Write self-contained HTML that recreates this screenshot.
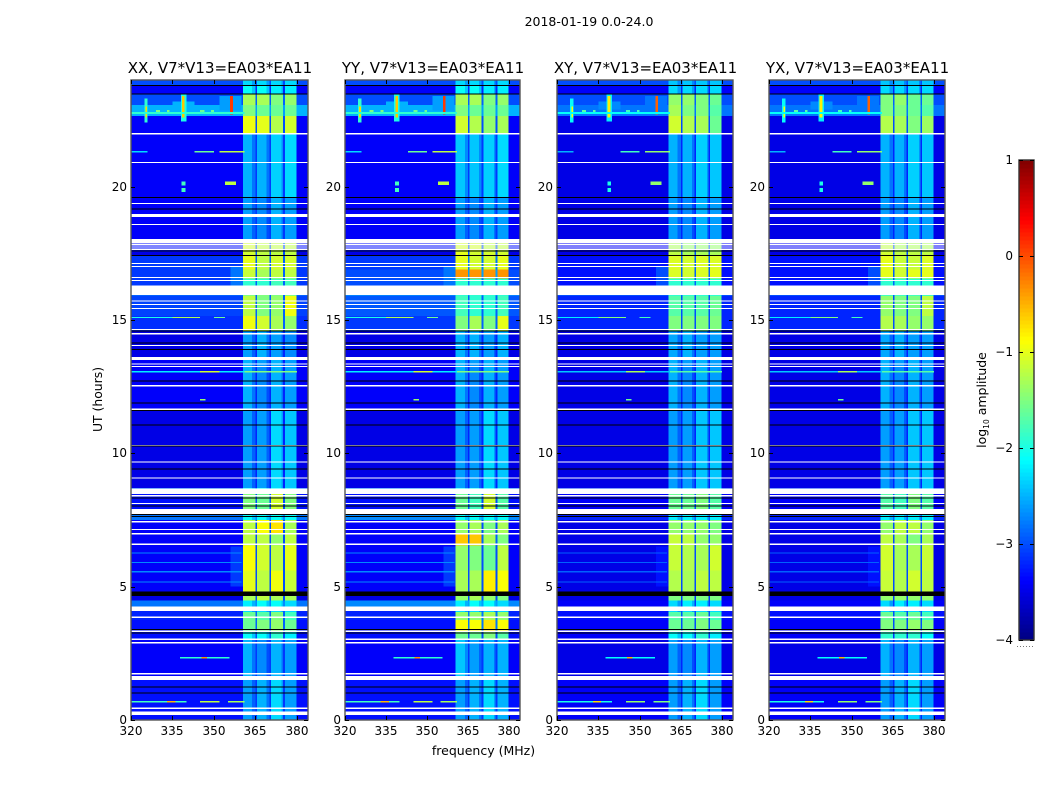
<!DOCTYPE html>
<html lang="en">
<head>
<meta charset="utf-8">
<title>2018-01-19 0.0-24.0</title>
<style>
html,body{margin:0;padding:0;background:#fff;width:1050px;height:800px;overflow:hidden}
svg{display:block}
text{font-family:"DejaVu Sans","Liberation Sans",sans-serif;fill:#000}
</style>
</head>
<body>
<svg id="figure" width="1050" height="800" viewBox="0 0 1050 800" xmlns="http://www.w3.org/2000/svg">
  <text x="589" y="26" font-size="12.5" text-anchor="middle">2018-01-19 0.0-24.0</text>
  <text x="483.5" y="755" font-size="12.5" text-anchor="middle">frequency (MHz)</text>
  <text transform="translate(102,399.5) rotate(-90)" font-size="12.4" text-anchor="middle">UT (hours)</text>
  <text transform="translate(986,400) rotate(-90)" font-size="12.5" text-anchor="middle">log<tspan font-size="7.5" dy="3">10</tspan><tspan dy="-3"> amplitude</tspan></text>
  <g id="panels"></g>
  <g id="colorbar"></g>
  <line x1="1017" y1="646.5" x2="1035" y2="646.5" stroke="#777" stroke-width="1" stroke-dasharray="1 2"></line>
</svg>
<script>
// Panel titles
const panelTitles = ["XX, V7*V13=EA03*EA11", "YY, V7*V13=EA03*EA11", "XY, V7*V13=EA03*EA11", "YX, V7*V13=EA03*EA11"];
const xTicks = [320, 335, 350, 365, 380];
const yTicks = [0, 5, 10, 15, 20];
const colorTicks = [1, 0, -1, -2, -3, -4];

// Frequency columns (MHz)
const freqEdges = [320, 360.5, 363.8, 365, 365.6, 369, 370, 370.6, 374.5, 375, 375.7, 379.8, 384];
// Which value of a row each frequency column reads: 0 off, 1 A, 2 B, 3 C, 4 D, 5 gap
const freqColumnKind = [0, 1, 1, 5, 2, 2, 5, 3, 3, 5, 4, 0];
// Band-edge columns fall away from the core when a row is at low amplitude
const freqColumnIsEdge = [0, 0, 1, 0, 0, 1, 0, 0, 1, 0, 0, 0];
const lowRowThreshold = -1.9;
const lowRowEdgeDrop = 0.4;
const lowRowCoreDrop = 0.1;

// UT row edges (hours)
const utEdges = [0,1.5,3.0,3.3,3.75,4.05,4.25,4.48,4.65,5.6,6.55,7.0,7.5,7.75,8.5,8.7,11.6,13.3,13.6,14.6,15.15,15.9,16.3,16.55,16.9,17.4,17.55,18.0,19.6,22.0,22.65,23.06,23.45,23.77,24];

// log10 amplitude per row: [off, A, B, C, D, gap]
const ampXX = [
[-3.3,-2.5,-2.4,-2.2,-2.5,-3.1],[-3.4,-2.4,-2.6,-2.4,-2.5,-3.1],[-3.3,-2.0,-2.0,-1.9,-2.1,-3.0],[-3.3,-1.6,-1.5,-1.4,-1.6,-2.9],
[-3.2,-1.6,-1.7,-1.5,-1.8,-2.9],[-3.2,-2.2,-2.2,-2.2,-2.2,-2.9],[-2.8,-2.1,-2.0,-2.0,-2.2,-2.7],[-3.5,-1.3,-1.2,-1.3,-1.3,-3.0],
[-3.4,-1.0,-1.2,-0.95,-1.15,-3.0],[-3.4,-0.9,-1.1,-1.2,-1.0,-3.0],[-3.4,-1.2,-1.2,-1.4,-1.2,-3.0],[-3.4,-1.2,-0.9,-0.75,-1.3,-3.0],
[-2.8,-2.0,-2.0,-2.0,-2.0,-2.7],[-3.3,-1.5,-1.6,-1.1,-1.5,-3.0],[-2.9,-2.0,-2.0,-2.0,-2.0,-2.8],[-3.5,-2.5,-2.5,-2.2,-2.3,-3.2],
[-3.4,-2.4,-2.6,-2.4,-2.5,-3.2],[-3.4,-2.4,-2.5,-2.4,-2.5,-3.2],[-3.5,-2.5,-2.4,-2.5,-2.6,-3.2],[-3.15,-0.95,-1.1,-1.3,-1.4,-2.9],
[-3.05,-1.2,-1.5,-1.4,-0.95,-2.9],[-2.9,-1.5,-1.5,-1.5,-1.5,-2.9],[-3.1,-1.9,-1.9,-1.8,-1.8,-2.9],[-3.1,-1.15,-1.3,-1.2,-1.2,-2.9],
[-3.1,-1.0,-1.2,-1.1,-1.1,-2.9],[-3.5,-1.1,-1.2,-1.2,-1.2,-3.0],[-3.3,-1.1,-1.2,-1.2,-1.2,-3.0],[-3.4,-2.5,-2.6,-2.4,-2.5,-3.1],
[-3.4,-2.4,-2.4,-2.25,-2.2,-3.1],[-3.4,-0.95,-1.0,-1.25,-1.1,-3.0],[-2.5,-1.5,-1.6,-1.6,-1.6,-2.6],[-3.0,-1.3,-1.3,-1.5,-1.4,-2.9],[-3.4,-2.0,-2.0,-2.1,-2.1,-3.2],[-3.0,-2.2,-2.2,-2.2,-2.2,-3.0]];
const ampYY = [
[-3.3,-2.5,-2.4,-2.2,-2.4,-3.1],[-3.4,-2.3,-2.5,-2.4,-2.4,-3.1],[-3.3,-1.6,-1.6,-1.5,-1.7,-3.0],[-3.3,-0.9,-0.9,-0.75,-0.9,-2.8],
[-3.2,-1.4,-1.4,-1.3,-1.4,-2.8],[-3.2,-2.2,-2.2,-2.2,-2.2,-2.9],[-2.7,-2.1,-2.0,-2.0,-2.2,-2.6],[-3.5,-1.4,-1.3,-1.4,-1.5,-3.0],
[-3.4,-1.3,-1.3,-0.8,-0.9,-3.0],[-3.4,-1.4,-1.5,-1.6,-1.2,-3.0],[-3.4,-0.6,-0.6,-1.3,-1.5,-2.9],[-3.4,-1.4,-1.3,-1.5,-1.3,-3.0],
[-2.7,-2.0,-2.0,-2.0,-2.0,-2.6],[-3.3,-1.6,-1.8,-1.1,-1.7,-3.0],[-2.8,-2.0,-2.0,-2.0,-2.0,-2.7],[-3.5,-2.5,-2.5,-2.2,-2.3,-3.2],
[-3.4,-2.4,-2.6,-2.4,-2.5,-3.2],[-3.4,-2.4,-2.5,-2.4,-2.5,-3.2],[-3.5,-2.4,-2.4,-2.5,-2.4,-3.2],[-3.1,-1.5,-1.3,-1.5,-1.0,-2.9],
[-2.95,-1.8,-1.9,-1.9,-1.8,-2.9],[-2.75,-1.9,-1.9,-1.9,-1.9,-2.7],[-3.0,-1.9,-1.9,-1.9,-1.9,-2.8],[-3.0,-0.35,-0.35,-0.35,-0.35,-2.6],
[-3.1,-1.0,-1.1,-1.1,-1.0,-2.8],[-3.5,-1.0,-1.1,-1.1,-1.1,-3.0],[-3.3,-1.1,-1.1,-1.2,-1.2,-3.0],[-3.4,-2.5,-2.6,-2.4,-2.5,-3.1],
[-3.4,-2.3,-2.3,-2.25,-2.2,-3.1],[-3.4,-1.1,-1.25,-1.4,-1.3,-3.0],[-2.5,-1.5,-1.6,-1.6,-1.6,-2.6],[-3.0,-1.3,-1.3,-1.5,-1.4,-2.9],[-3.4,-2.0,-2.0,-2.1,-2.1,-3.2],[-3.0,-2.2,-2.2,-2.2,-2.2,-3.0]];
const ampXY = [
[-3.4,-2.5,-2.4,-2.2,-2.5,-3.2],[-3.5,-2.5,-2.6,-2.4,-2.5,-3.2],[-3.4,-2.0,-2.0,-1.9,-2.1,-3.1],[-3.4,-1.6,-1.6,-1.5,-1.6,-3.0],
[-3.3,-1.7,-1.7,-1.6,-1.8,-3.0],[-3.3,-2.2,-2.2,-2.2,-2.2,-3.0],[-3.4,-2.2,-2.1,-2.1,-2.2,-3.1],[-3.5,-1.5,-1.5,-1.5,-1.5,-3.1],
[-3.5,-1.25,-1.3,-1.2,-1.2,-3.0],[-3.5,-1.15,-1.25,-1.3,-1.1,-3.0],[-3.5,-1.15,-1.2,-1.4,-1.4,-3.0],[-3.5,-1.4,-1.4,-1.4,-1.5,-3.0],
[-3.2,-2.1,-2.1,-2.1,-2.1,-2.9],[-3.4,-1.6,-1.6,-1.5,-1.7,-3.0],[-3.1,-2.1,-2.1,-2.1,-2.1,-2.9],[-3.5,-2.5,-2.5,-2.3,-2.3,-3.2],
[-3.5,-2.4,-2.6,-2.4,-2.5,-3.2],[-3.5,-2.4,-2.5,-2.4,-2.5,-3.2],[-3.5,-2.45,-2.4,-2.5,-2.5,-3.2],[-3.2,-1.5,-1.5,-1.5,-1.5,-3.0],
[-3.2,-1.7,-1.7,-1.7,-1.6,-3.0],[-3.0,-1.9,-1.9,-1.9,-1.9,-2.9],[-3.3,-1.9,-1.9,-1.9,-1.9,-2.9],[-3.3,-1.05,-1.1,-1.05,-1.0,-2.9],
[-3.3,-1.05,-1.1,-1.05,-1.05,-2.9],[-3.5,-1.2,-1.3,-1.3,-1.3,-3.0],[-3.4,-1.3,-1.4,-1.4,-1.4,-3.0],[-3.5,-2.5,-2.6,-2.4,-2.5,-3.2],
[-3.5,-2.4,-2.4,-2.25,-2.3,-3.2],[-3.5,-1.1,-1.25,-1.3,-1.6,-3.0],[-2.8,-1.3,-1.5,-1.5,-1.7,-2.8],[-3.0,-1.4,-1.4,-1.5,-1.6,-2.9],[-3.4,-2.2,-2.2,-2.2,-2.2,-3.2],[-3.0,-2.3,-2.3,-2.3,-2.3,-3.0]];
const ampYX = [
[-3.4,-2.5,-2.4,-2.2,-2.5,-3.2],[-3.5,-2.4,-2.6,-2.4,-2.5,-3.2],[-3.4,-1.9,-1.9,-1.9,-2.0,-3.1],[-3.4,-1.5,-1.5,-1.4,-1.5,-3.0],
[-3.3,-1.6,-1.7,-1.6,-1.8,-3.0],[-3.3,-2.2,-2.2,-2.2,-2.2,-3.0],[-3.4,-2.2,-2.1,-2.1,-2.2,-3.1],[-3.5,-1.4,-1.4,-1.4,-1.4,-3.1],
[-3.5,-1.15,-1.25,-1.1,-1.2,-3.0],[-3.5,-1.1,-1.3,-1.3,-1.15,-3.0],[-3.5,-1.2,-1.3,-1.5,-1.3,-3.0],[-3.5,-1.4,-1.2,-1.2,-1.4,-3.0],
[-3.2,-2.1,-2.1,-2.1,-2.1,-2.9],[-3.4,-1.7,-1.8,-1.5,-1.7,-3.0],[-3.1,-2.1,-2.1,-2.1,-2.1,-2.9],[-3.5,-2.5,-2.5,-2.3,-2.3,-3.2],
[-3.5,-2.4,-2.6,-2.4,-2.5,-3.2],[-3.5,-2.4,-2.5,-2.4,-2.5,-3.2],[-3.5,-2.45,-2.4,-2.5,-2.5,-3.2],[-3.2,-1.25,-1.3,-1.4,-1.4,-3.0],
[-3.2,-1.4,-1.5,-1.5,-1.2,-3.0],[-3.0,-1.8,-1.8,-1.8,-1.8,-2.9],[-3.3,-1.9,-1.9,-1.9,-1.9,-2.9],[-3.3,-1.0,-1.1,-1.0,-1.0,-2.9],
[-3.3,-1.0,-1.15,-1.15,-1.05,-2.9],[-3.5,-1.1,-1.2,-1.2,-1.2,-3.0],[-3.4,-1.2,-1.3,-1.3,-1.3,-3.0],[-3.5,-2.5,-2.6,-2.4,-2.5,-3.2],
[-3.5,-2.4,-2.4,-2.25,-2.3,-3.2],[-3.5,-1.25,-1.3,-1.5,-1.35,-3.0],[-2.8,-1.5,-1.5,-1.6,-1.7,-2.8],[-3.0,-1.5,-1.4,-1.6,-1.6,-2.9],[-3.4,-2.2,-2.2,-2.2,-2.2,-3.2],[-3.0,-2.3,-2.3,-2.3,-2.3,-3.0]];
const panelAmps = [ampXX, ampYY, ampXY, ampYX];

// Narrow-band interference features: [freqLo, freqHi, utLo, utHi, log10 amplitude]
const rfiEvents = [
[352,360,22.85,23.4,-2.6],[335,343,22.9,23.2,-2.5],[324.8,326,22.4,23.3,-1.9],[325.2,325.8,22.6,23.0,-0.7],[338,340,22.45,23.5,-2.0],[338.4,339.4,22.6,23.4,-0.6],[355.8,356.8,22.7,23.4,0.1],
[320,361,22.72,22.8,-1.9],[329,330.5,22.8,22.88,-1.5],[333,334,22.8,22.88,-1.5],[345,346.5,22.8,22.88,-1.6],[349,350,22.8,22.88,-1.6],
[320,326,21.28,21.33,-2.3],[343,350,21.28,21.33,-1.6],[352,361,21.28,21.33,-1.2],
[338.3,339.7,20.05,20.2,-1.8],[338.3,339.7,19.8,19.95,-1.8],[354,358,20.07,20.2,-1.2],
[320,345,15.07,15.12,-2.0],[335,345,15.07,15.12,-1.3],[350,354,15.07,15.12,-1.6],
[320,361,13.03,13.08,-2.2],[345,352,13.03,13.08,-1.1],[361,380,13.03,13.08,-1.5],
[345,347,11.98,12.04,-1.4],
[356,360.5,16.3,17.0,-2.8],[356,360.5,5.0,6.5,-3.1],
[320,360,6.25,6.29,-2.7],[320,360,5.88,5.92,-2.7],[320,360,5.54,5.58,-2.7],[320,360,5.16,5.2,-2.7],
[337.7,355.7,2.3,2.36,-1.9],[345.5,347.5,2.3,2.36,-0.3],
[320,340,0.65,0.71,-1.8],[333,336,0.65,0.71,-0.5],[345,352,0.65,0.71,-1.2],[355,361,0.65,0.71,-1.3]];
const rfiPanelOffset = [0, 0, -0.2, -0.2];

// Flagged (blank) time ranges in hours
const flaggedRanges = [
[0.19,0.31],[0.42,0.46],[1.5,1.65],[1.71,1.76],[2.87,2.92],[3.0,3.06],[3.3,3.36],[3.83,3.88],[4.09,4.25],[6.56,6.62],[6.96,7.01],[7.13,7.17],[7.41,7.46],[7.72,7.91],[8.10,8.14],[8.38,8.43],[8.47,8.69],[9.06,9.1],[9.66,9.7],[10.28,10.31],[11.62,11.68],[12.51,12.56],[13.24,13.27],[13.33,13.37],[13.5,13.62],[14.02,14.06],[14.45,14.51],[14.62,14.66],[15.41,15.45],[15.56,15.6],[15.7,15.73],[15.94,16.29],[16.46,16.5],[16.57,16.61],[16.98,17.02],[17.1,17.13],[17.62,17.68],[17.72,17.76],[17.8,17.85],[17.86,18.03],[18.56,18.6],[18.86,18.97],[19.35,19.38],[20.89,20.93],[21.95,22.01]];
// Zero-amplitude (black) time ranges in hours
const zeroRanges = [
[1.0,1.035],[1.23,1.265],[3.25,3.285],[3.37,3.405],[4.65,4.81],[7.62,7.655],[7.69,7.725],[8.0,8.035],[8.31,8.345],[9.4,9.435],[10.25,10.285],[11.05,11.085],[11.58,11.62],[11.87,11.905],[12.7,12.735],[13.87,13.905],[14.12,14.155],[14.58,14.615],[17.4,17.44],[17.56,17.6],[19.15,19.185],[19.58,19.615],[23.46,23.495],[23.77,23.805]];

const NS = "http://www.w3.org/2000/svg";
const panelBoxes = [{x:131,w:177},{x:345,w:175},{x:557,w:176},{x:769,w:176}];
const plotTop = 80, plotBottom = 720;
const freqMin = 320, freqMax = 384, utMin = 0, utMax = 24;
const vMin = -4, vMax = 1;

function yScale(ut){ return plotBottom - (ut - utMin) / (utMax - utMin) * (plotBottom - plotTop); }
function xScale(box, f){ return box.x + (f - freqMin) / (freqMax - freqMin) * box.w; }
function jet(v){
  const t = Math.min(1, Math.max(0, (v - vMin) / (vMax - vMin)));
  const ch = c => Math.round(255 * Math.min(1, Math.max(0, 1.5 - Math.abs(4 * t - c))));
  return "rgb(" + ch(3) + "," + ch(2) + "," + ch(1) + ")";
}
function makeRect(parent, x, y, w, h, fill){
  const r = document.createElementNS(NS, "rect");
  r.setAttribute("x", x.toFixed(2));
  r.setAttribute("y", y.toFixed(2));
  r.setAttribute("width", w.toFixed(2));
  r.setAttribute("height", h.toFixed(2));
  r.setAttribute("fill", fill);
  r.setAttribute("shape-rendering", "crispEdges");
  parent.appendChild(r);
  return r;
}
function makeLine(parent, x1, y1, x2, y2){
  const l = document.createElementNS(NS, "line");
  l.setAttribute("x1", x1); l.setAttribute("y1", y1);
  l.setAttribute("x2", x2); l.setAttribute("y2", y2);
  l.setAttribute("stroke", "#000");
  l.setAttribute("stroke-width", "1");
  l.setAttribute("shape-rendering", "crispEdges");
  parent.appendChild(l);
  return l;
}
function makeText(parent, x, y, str, size, anchor){
  const t = document.createElementNS(NS, "text");
  t.setAttribute("x", x); t.setAttribute("y", y);
  t.setAttribute("font-size", size);
  t.setAttribute("text-anchor", anchor);
  t.textContent = str;
  parent.appendChild(t);
  return t;
}

const panelsRoot = document.getElementById("panels");
panelBoxes.forEach(function(box, p){
  const g = document.createElementNS(NS, "g");
  
  
  panelsRoot.appendChild(g);

  const rows = panelAmps[p];
  rows.forEach(function(row, r){
    const yTop = yScale(utEdges[r + 1]), yBot = yScale(utEdges[r]);
    freqColumnKind.forEach(function(kind, c){
      const x0 = xScale(box, freqEdges[c]), x1 = xScale(box, freqEdges[c + 1]);
      let value = row[kind];
      if (kind >= 1 && kind <= 4 && value < lowRowThreshold) {
        value -= freqColumnIsEdge[c] ? lowRowEdgeDrop : lowRowCoreDrop;
      }
      const cell = makeRect(g, x0, yTop, x1 - x0, yBot - yTop, jet(value));
      
      
    });
  });

  rfiEvents.forEach(function(ev){
    const x0 = xScale(box, ev[0]), x1 = xScale(box, ev[1]);
    const y0 = yScale(ev[3]), y1 = yScale(ev[2]);
    const mark = makeRect(g, x0, y0, x1 - x0, Math.max(1, y1 - y0), jet(ev[4] + rfiPanelOffset[p]));
    
    
  });

  flaggedRanges.forEach(function(rg){
    const y0 = yScale(rg[1]), y1 = yScale(rg[0]);
    const band = makeRect(g, box.x, y0, box.w, Math.max(1, y1 - y0), "#fff");
    
    
  });
  zeroRanges.forEach(function(rg){
    const y0 = yScale(rg[1]), y1 = yScale(rg[0]);
    const band = makeRect(g, box.x, y0, box.w, Math.max(1, y1 - y0), "#000");
    
    
  });

  // Frame
  const frame = document.createElementNS(NS, "rect");
  frame.setAttribute("x", box.x);
  frame.setAttribute("y", plotTop);
  frame.setAttribute("width", box.w);
  frame.setAttribute("height", plotBottom - plotTop);
  frame.setAttribute("fill", "none");
  frame.setAttribute("stroke", "#555");
  frame.setAttribute("stroke-width", "1.4");
  
  
  g.appendChild(frame);

  // Ticks and labels
  xTicks.forEach(function(f){
    const x = Math.round(xScale(box, f));
    const t1 = makeLine(g, x + 0.5, plotBottom, x + 0.5, plotBottom - 4);
    
    
    const t2 = makeLine(g, x + 0.5, plotTop, x + 0.5, plotTop + 4);
    
    
    const lab = makeText(g, x, 735, String(f), 12, "middle");
    
    
  });
  yTicks.forEach(function(u){
    const y = Math.round(yScale(u));
    const t1 = makeLine(g, box.x, y + 0.5, box.x + 4, y + 0.5);
    
    
    const t2 = makeLine(g, box.x + box.w, y + 0.5, box.x + box.w - 4, y + 0.5);
    
    
    const lab = makeText(g, box.x - 4, y + 4, String(u), 12, "end");
    
    
  });
  const title = makeText(g, box.x + box.w / 2 + 0.5, 73, panelTitles[p], 15, "middle");
  
  
});

// Colorbar
const cbar = document.getElementById("colorbar");
const cbX = 1019, cbW = 15, cbTop = 160, cbBottom = 640, cbSteps = 120;
function cbY(v){ return cbBottom - (v - vMin) / (vMax - vMin) * (cbBottom - cbTop); }
for (let i = 0; i < cbSteps; i++) {
  const v0 = vMin + (vMax - vMin) * i / cbSteps;
  const v1 = vMin + (vMax - vMin) * (i + 1) / cbSteps;
  const seg = makeRect(cbar, cbX, cbY(v1), cbW, cbY(v0) - cbY(v1) + 0.5, jet((v0 + v1) / 2));
  
  
}
const cbFrame = document.createElementNS(NS, "rect");
cbFrame.setAttribute("x", cbX);
cbFrame.setAttribute("y", cbTop);
cbFrame.setAttribute("width", cbW);
cbFrame.setAttribute("height", cbBottom - cbTop);
cbFrame.setAttribute("fill", "none");
cbFrame.setAttribute("stroke", "#333");
cbFrame.setAttribute("stroke-width", "1.4");


cbar.appendChild(cbFrame);
colorTicks.forEach(function(v){
  const y = Math.round(cbY(v));
  const a = makeLine(cbar, cbX, y + 0.5, cbX + 4, y + 0.5);
  
  
  const b = makeLine(cbar, cbX + cbW - 4, y + 0.5, cbX + cbW, y + 0.5);
  
  
  const lab = makeText(cbar, 1013, y + 4, v < 0 ? "\u2212" + Math.abs(v) : String(v), 12, "end");
  
  
});
</script>
</body>
</html>
